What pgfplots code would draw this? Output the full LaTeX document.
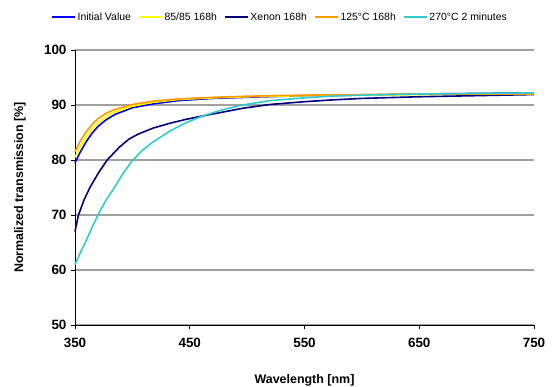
\documentclass[border=0pt]{standalone}
\usepackage{fontspec}
\setmainfont{Liberation Sans}
\usepackage{pgfplots}
\pgfplotsset{compat=1.18}
\definecolor{cInit}{RGB}{0,0,255}
\definecolor{cYel}{RGB}{255,255,0}
\definecolor{cXen}{RGB}{0,0,128}
\definecolor{cOra}{RGB}{255,153,0}
\definecolor{cCya}{RGB}{51,204,204}
\definecolor{cGrid}{RGB}{160,160,160}
\begin{document}
\begin{tikzpicture}
\useasboundingbox (-75bp,-62bp) rectangle (484bp,325bp);
\begin{axis}[
  at={(0,0)}, anchor=south west,
  scale only axis, width=459bp, height=275bp,
  xmin=350, xmax=750, ymin=50, ymax=100,
  xtick={350,450,550,650,750},
  ytick={50,60,70,80,90,100},
  axis x line*=bottom, axis y line*=left,
  axis line style={black, line width=0.8bp},
  tick align=outside, major tick length=4bp,
  tick style={black, line width=0.8bp},
  ymajorgrids, grid style={cGrid, line width=1.6bp},
  /pgf/number format/assume math mode=true,
  /pgf/number format/1000 sep={},
  ticklabel style={font=\fontsize{13.5}{16}\selectfont\bfseries},
  xticklabel style={yshift=-6bp},
  yticklabel style={xshift=-1bp},
  label style={font=\fontsize{12.5}{15}\selectfont\bfseries},
  xlabel={Wavelength [nm]},
  ylabel={Normalized transmission [\%]},
  xlabel style={at={(axis description cs:0.5,-0.2)}, anchor=center},
  ylabel style={at={(axis description cs:-0.1198,0.5)}, anchor=center},
  legend columns=5,
  legend style={draw=none, fill=none, at={(axis description cs:0.4466,1.12)}, anchor=center,
    font=\fontsize{10.5}{12}\selectfont,
    /tikz/every even column/.append style={column sep=5bp}},
  legend image code/.code={\draw[#1] (0bp,0bp) -- (23bp,0bp);},
  every axis plot/.append style={line width=1.6bp, no markers},
  clip=false,
]
\addplot[cInit] coordinates {
(350,79.5) (355,81.6) (360,83.4) (365,84.9) (370,86.1) (377,87.3) (385,88.3) (400,89.5)
(418,90.2) (440,90.8) (470,91.2) (500,91.4) (550,91.7) (600,91.8) (650,92.0) (700,92.1) (750,92.2)};
\addlegendentry{Initial Value}
\addplot[cYel] coordinates {
(350,80.5) (355,82.6) (360,84.3) (365,85.7) (370,86.8) (377,87.9) (385,88.8) (400,89.8)
(418,90.5) (440,91.0) (470,91.3) (500,91.5) (550,91.7) (600,91.8) (650,91.9) (700,92.0) (750,92.0)};
\addlegendentry{85/85 168h}
\addplot[cXen] coordinates {
(350,67.0) (353,70.0) (358,72.8) (363,75.0) (370,77.5) (378,80.0) (389,82.4) (397,83.8) (405,84.7)
(418,85.8) (433,86.7) (447,87.4) (461,88.0) (476,88.6) (496,89.4) (520,90.1) (550,90.6)
(572,90.9) (600,91.2) (650,91.5) (700,91.7) (750,91.9)};
\addlegendentry{Xenon 168h}
\addplot[cOra] coordinates {
(350,81.5) (355,83.6) (360,85.2) (365,86.5) (370,87.5) (377,88.5) (385,89.2) (400,90.1)
(418,90.7) (440,91.1) (470,91.4) (500,91.6) (550,91.8) (600,91.9) (650,92.0) (700,92.0) (750,92.0)};
\addlegendentry{125°C 168h}
\addplot[cCya] coordinates {
(350,61.0) (355,63.3) (360,65.5) (365,67.8) (370,70.0) (377,72.7) (385,75.2) (392,77.6) (400,79.9)
(409,81.8) (418,83.3) (433,85.3) (447,86.8) (460,87.9) (476,89.0) (496,90.0) (520,90.8)
(550,91.3) (572,91.6) (600,91.8) (650,92.0) (700,92.1) (750,92.2)};
\addlegendentry{270°C 2 minutes}
\end{axis}
\end{tikzpicture}
\end{document}
